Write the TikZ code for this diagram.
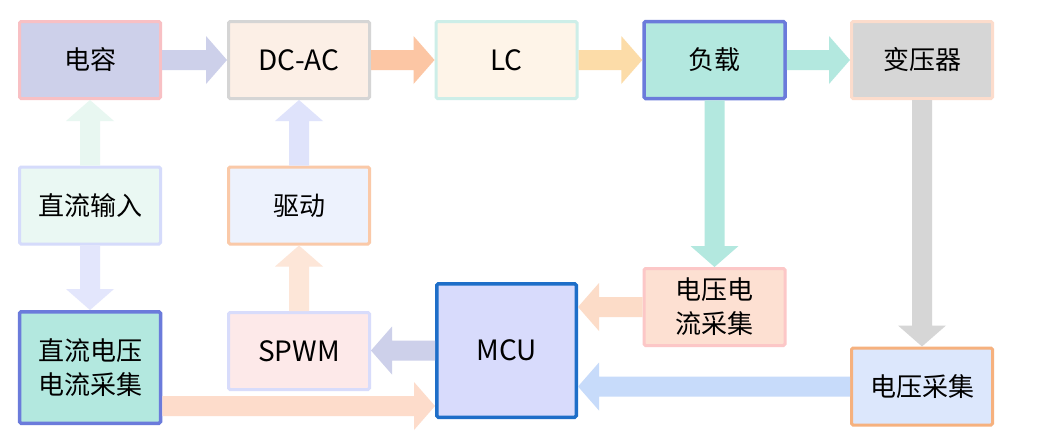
\documentclass[tikz,border=0pt]{standalone}
\usepackage{fontspec}
\setmainfont{Noto Sans CJK SC}
\usetikzlibrary{calc}
\definecolor{capF}{HTML}{CDD0EA}\definecolor{capD}{HTML}{F8C0C4}
\definecolor{dcacF}{HTML}{FCEFE6}\definecolor{dcacD}{HTML}{D5D5D5}
\definecolor{lcF}{HTML}{FEF4E8}\definecolor{lcD}{HTML}{CDEEE8}
\definecolor{tealF}{HTML}{B3E8DF}\definecolor{blueD}{HTML}{6B7BDB}
\definecolor{tfF}{HTML}{D6D6D6}\definecolor{tfD}{HTML}{FCDCCC}
\definecolor{dcinF}{HTML}{EAF8F3}\definecolor{dcinD}{HTML}{D5DBFB}
\definecolor{drvF}{HTML}{EDF2FD}\definecolor{drvD}{HTML}{FAC9A8}
\definecolor{vicF}{HTML}{FDE0D2}\definecolor{vicD}{HTML}{FCC7C7}
\definecolor{spwmF}{HTML}{FDE9E9}\definecolor{spwmD}{HTML}{D8DCFB}
\definecolor{mcuF}{HTML}{D8DBFC}\definecolor{mcuD}{HTML}{1E6EC8}
\definecolor{vsF}{HTML}{DCE7FC}\definecolor{vsD}{HTML}{F6B17E}
\definecolor{aLav}{HTML}{CDD0EA}
\definecolor{aPeach}{HTML}{FCC6A4}
\definecolor{aOrange}{HTML}{FCDCA8}
\definecolor{aTeal}{HTML}{B3E8DF}
\definecolor{aMint}{HTML}{E8F7F1}
\definecolor{aLav2}{HTML}{DFE3FB}
\definecolor{aLav3}{HTML}{E3E6FC}
\definecolor{aPeach2}{HTML}{FDE6D8}
\definecolor{aGray}{HTML}{D6D6D6}
\definecolor{aPeach3}{HTML}{FCDCC8}
\definecolor{aBlue}{HTML}{C7DBFA}
\definecolor{aPeach4}{HTML}{FDDCCB}
\tikzset{
  box/.style={draw, line width=3pt, rounded corners=1.5pt, minimum width=141pt,
    minimum height=77pt, inner sep=0pt, align=center,
    font=\fontsize{26}{34}\selectfont},
  latin/.style={font=\fontsize{28}{34}\selectfont},
  thickbox/.style={line width=3.5pt},
  blockarr/.style={to path={let \p1=(\tikztostart), \p2=(\tikztotarget),
    \p3=($(\p2)!21pt!(\p1)$) in
    ($(\p1)!10pt!90:(\p2)$) -- ($(\p3)!10pt!90:(\p2)$) -- ($(\p3)!24pt!90:(\p2)$)
    -- (\p2) -- ($(\p3)!24pt!-90:(\p2)$) -- ($(\p3)!10pt!-90:(\p2)$)
    -- ($(\p1)!10pt!-90:(\p2)$) -- cycle}},
}
\begin{document}
\begin{tikzpicture}[x=1pt,y=-1pt]
\useasboundingbox[fill=white] (0,0) rectangle (1037,445);
% nodes
\node[box, fill=capF, draw=capD] (cap) at (90,60) {电容};
\node[box, latin, fill=dcacF, draw=dcacD] (dcac) at (299,60) {DC-AC};
\node[box, latin, fill=lcF, draw=lcD] (lc) at (506.5,60) {LC};
\node[box, thickbox, fill=tealF, draw=blueD] (load) at (714.5,60) {负载};
\node[box, fill=tfF, draw=tfD] (tf) at (922,60) {变压器};
\node[box, fill=dcinF, draw=dcinD] (dcin) at (90,205.5) {直流输入};
\node[box, fill=drvF, draw=drvD] (drv) at (299,205.5) {驱动};
\node[box, fill=vicF, draw=vicD] (vic) at (714.5,307) {电压电\\流采集};
\node[box, thickbox, fill=tealF, draw=blueD, minimum height=111.5pt] (dcvi) at (90,367.5) {直流电压\\电流采集};
\node[box, latin, fill=spwmF, draw=spwmD] (spwm) at (299,351) {SPWM};
\node[box, latin, thickbox, fill=mcuF, draw=mcuD, minimum height=133.5pt, minimum width=139.5pt] (mcu) at (506.5,350.5) {MCU};
\node[box, fill=vsF, draw=vsD] (vs) at (922,386.5) {电压采集};
\coordinate (dcvo) at ([yshift=19pt]dcvi.south east);
% arrows
\path[fill=aLav] (cap.east) to[blockarr] (dcac.west);
\path[fill=aPeach] (dcac.east) to[blockarr] (lc.west);
\path[fill=aOrange] (lc.east) to[blockarr] (load.west);
\path[fill=aTeal] (load.east) to[blockarr] (tf.west);
\path[fill=aMint] (dcin.north) to[blockarr] (cap.south);
\path[fill=aLav2] (drv.north) to[blockarr] (dcac.south);
\path[fill=aLav3] (dcin.south) to[blockarr] (dcvi.north);
\path[fill=aPeach2] (spwm.north) to[blockarr] (drv.south);
\path[fill=aTeal] (load.south) to[blockarr] (vic.north);
\path[fill=aGray] (tf.south) to[blockarr] (vs.north);
\path[fill=aPeach3] (vic.west) to[blockarr] (mcu.east |- vic.west);
\path[fill=aBlue] (vs.west) to[blockarr] (mcu.east |- vs.west);
\path[fill=aLav] (mcu.west) to[blockarr] (spwm.east |- mcu.west);
\path[fill=aPeach4] (dcvo) to[blockarr] (mcu.west |- dcvo);
\end{tikzpicture}
\end{document}
